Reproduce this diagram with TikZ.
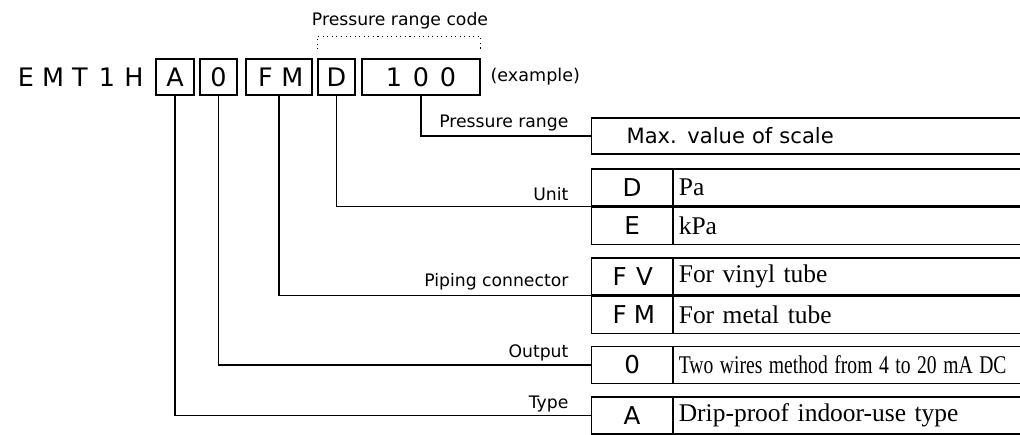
\documentclass[tikz,border=0pt]{standalone}
\usepackage{graphicx}
\usepackage{fontspec}
\setmainfont{Liberation Serif}
\setsansfont{DejaVu Sans}
\usetikzlibrary{positioning}

% letters set at a fixed pitch
\newcommand\pitched[2]{\def\pitchwd{#1}\pitchedloop#2\relax}
\def\pitchedloop#1{\ifx#1\relax\else\makebox[\pitchwd]{#1}\expandafter\pitchedloop\fi}

\begin{document}
\begin{tikzpicture}[x=0.02cm,y=-0.02cm,line width=0.7pt,
   every node/.style={inner sep=0pt},
   top/.style={draw,minimum height=0.72cm,font=\sffamily\fontsize{14.5}{16}\selectfont},
   code/.style={draw,minimum width=1.62cm,minimum height=0.74cm,
     font=\sffamily\fontsize{14}{16}\selectfont},
   desc/.style={draw,text width=6.96cm,inner xsep=0.1cm,minimum height=0.74cm,
     align=left,font=\fontsize{14.5}{16}\selectfont},
   lbl/.style={anchor=base east,font=\sffamily\fontsize{9.8}{12}\selectfont}]
  \clip (0,0) rectangle (1020,435);
  % model code
  \node[font=\sffamily\fontsize{14.5}{16}\selectfont] (emt) at (80,77) {\pitched{0.54cm}{EMT1H}};
  \node[top,minimum width=0.76cm] (cA) at (175,77) {A};
  \node[top,minimum width=0.74cm] (c0) at (218.5,77) {0};
  \node[top,minimum width=1.32cm] (cFM) at (279,77) {\pitched{0.54cm}{FM}};
  \node[top,minimum width=0.74cm] (cD) at (336.5,77) {D};
  \node[top,minimum width=2.36cm] (c100) at (421,77) {\pitched{0.54cm}{100}};
  \node[anchor=base west,font=\sffamily\fontsize{10}{12}\selectfont] (ex) at (490,82) {(example)};
  \node[anchor=base,font=\sffamily\fontsize{9.8}{12}\selectfont] (prc) at (400,26) {Pressure range code};
  \draw[dotted,line width=0.6pt] ([yshift=0.18cm]cD.north west) |- ([yshift=0.44cm]c100.north east)
    -- ([yshift=0.18cm]c100.north east);
  % tables
  \node[draw,anchor=west,minimum width=8.78cm,minimum height=0.72cm,text width=7.38cm,
    inner xsep=0.7cm,align=left,font=\sffamily\fontsize{12}{14}\selectfont] (pr) at (591,136) {Max. value of scale};
  \node[code,anchor=west] (uD) at (591,187.5) {D};
  \node[desc,right=0pt of uD] (uDd) {Pa};
  \node[code,below=0pt of uD] (uE) {E};
  \node[desc,right=0pt of uE] (uEd) {kPa};
  \node[code,anchor=west] (pFV) at (591,276.5) {\pitched{0.5cm}{FV}};
  \node[desc,right=0pt of pFV] (pFVd) {For vinyl tube};
  \node[code,below=0pt of pFV] (pFM) {\pitched{0.5cm}{FM}};
  \node[desc,right=0pt of pFM] (pFMd) {For metal tube};
  \node[code,anchor=west] (o0) at (591,365) {0};
  \node[desc,right=0pt of o0] (o0d) {\scalebox{0.77}[1]{Two wires method from 4 to 20 mA DC}};
  \node[code,anchor=west] (tA) at (591,415.5) {A};
  \node[desc,right=0pt of tA] (tAd) {Drip-proof indoor-use type};
  % labels
  \node[lbl] (lpr) at (569,128) {Pressure range};
  \node[lbl] (lu) at (569,201) {Unit};
  \node[lbl] (lp) at (569,287) {Piping connector};
  \node[lbl] (lo) at (569,357) {Output};
  \node[lbl] (lt) at (569,408) {Type};
  % leaders
  \draw (c100) |- (pr.west);
  \draw (cD) |- (uD.south west);
  \draw (cFM) |- (pFV.south west);
  \draw (c0) |- (o0.west);
  \draw (cA) |- (tA.west);
\end{tikzpicture}
\end{document}
